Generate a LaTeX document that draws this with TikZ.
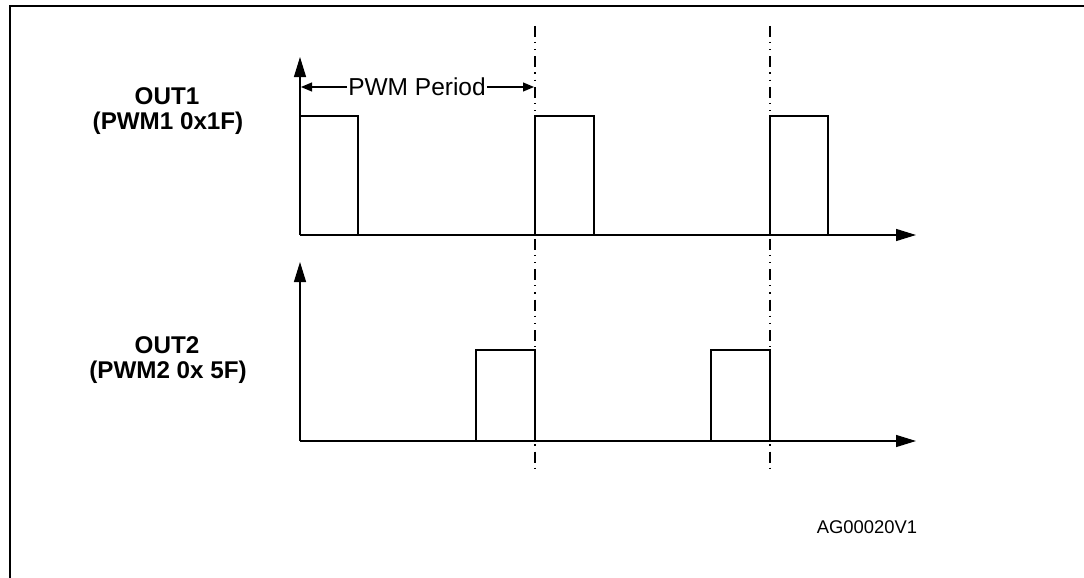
\documentclass[tikz,border=0pt]{standalone}
\usepackage{fontspec}
\setmainfont{Liberation Sans}
\usetikzlibrary{arrows.meta}
\tikzset{
  axis/.style={line width=1.3pt,-{Triangle[length=20pt,width=12pt]}},
  wave/.style={line width=1.3pt},
  period/.style={line width=1.1pt,-{Triangle[length=11pt,width=9pt]}},
  dashdot/.style={line width=1.2pt,dash pattern=on 11pt off 5pt on 1.2pt off 6pt on 1.2pt off 6pt},
  lbl/.style={font=\fontsize{24.2}{27}\selectfont\bfseries,align=center,inner sep=0pt},
  txt/.style={font=\fontsize{24.5}{28}\selectfont,inner sep=0pt},
  ref/.style={font=\fontsize{18.4}{22}\selectfont,inner sep=0pt}
}
\begin{document}
\begin{tikzpicture}[x=1pt,y=-1pt]
\useasboundingbox (0,0) rectangle (1084,578);
\fill[white] (0,0) rectangle (1084,578);
\draw[line width=2.2pt] (10,6) rectangle (1100,600);
% coordinates
\coordinate (o1) at (300,235);
\coordinate (y1) at (300,57);
\coordinate (x1) at (916,235);
\coordinate (o2) at (300,441);
\coordinate (y2) at (300,262);
\coordinate (x2) at (916,441);
\coordinate (d1t) at (535,26);
\coordinate (d1b) at (535,468);
\coordinate (d2t) at (770,26);
\coordinate (d2b) at (770,468);
% dash-dot period markers
\draw[dashdot] (d1t) -- (d1b);
\draw[dashdot] (d2t) -- (d2b);
% OUT1 waveform
\draw[wave] (300,116) -- (358,116) -- (358,235);
\draw[wave] (535,235) -- (535,116) -- (594,116) -- (594,235);
\draw[wave] (770,235) -- (770,116) -- (828,116) -- (828,235);
% OUT2 waveform
\draw[wave] (476,441) -- (476,350) -- (535,350) -- (535,441);
\draw[wave] (711,441) -- (711,350) -- (770,350) -- (770,441);
% axes
\draw[axis] (o1) -- (y1);
\draw[axis] (o1) -- (x1);
\draw[axis] (o2) -- (y2);
\draw[axis] (o2) -- (x2);
% PWM period
\node[txt,fill=white,inner xsep=1pt] (per) at (417,87) {PWM Period};
\coordinate (pl) at (301,87);
\coordinate (pr) at (534,87);
\draw[period] (per.west) -- (pl);
\draw[period] (per.east) -- (pr);
% labels
\node[lbl] (out1) at (167,96) {OUT1};
\node[lbl] (pwm1) at (168,123) {(PWM1 0x1F)};
\node[lbl] (out2) at (167,345) {OUT2};
\node[lbl] (pwm2) at (168,372) {(PWM2 0x 5F)};
\node[ref] (ag) at (867,527) {AG00020V1};
\end{tikzpicture}
\end{document}
